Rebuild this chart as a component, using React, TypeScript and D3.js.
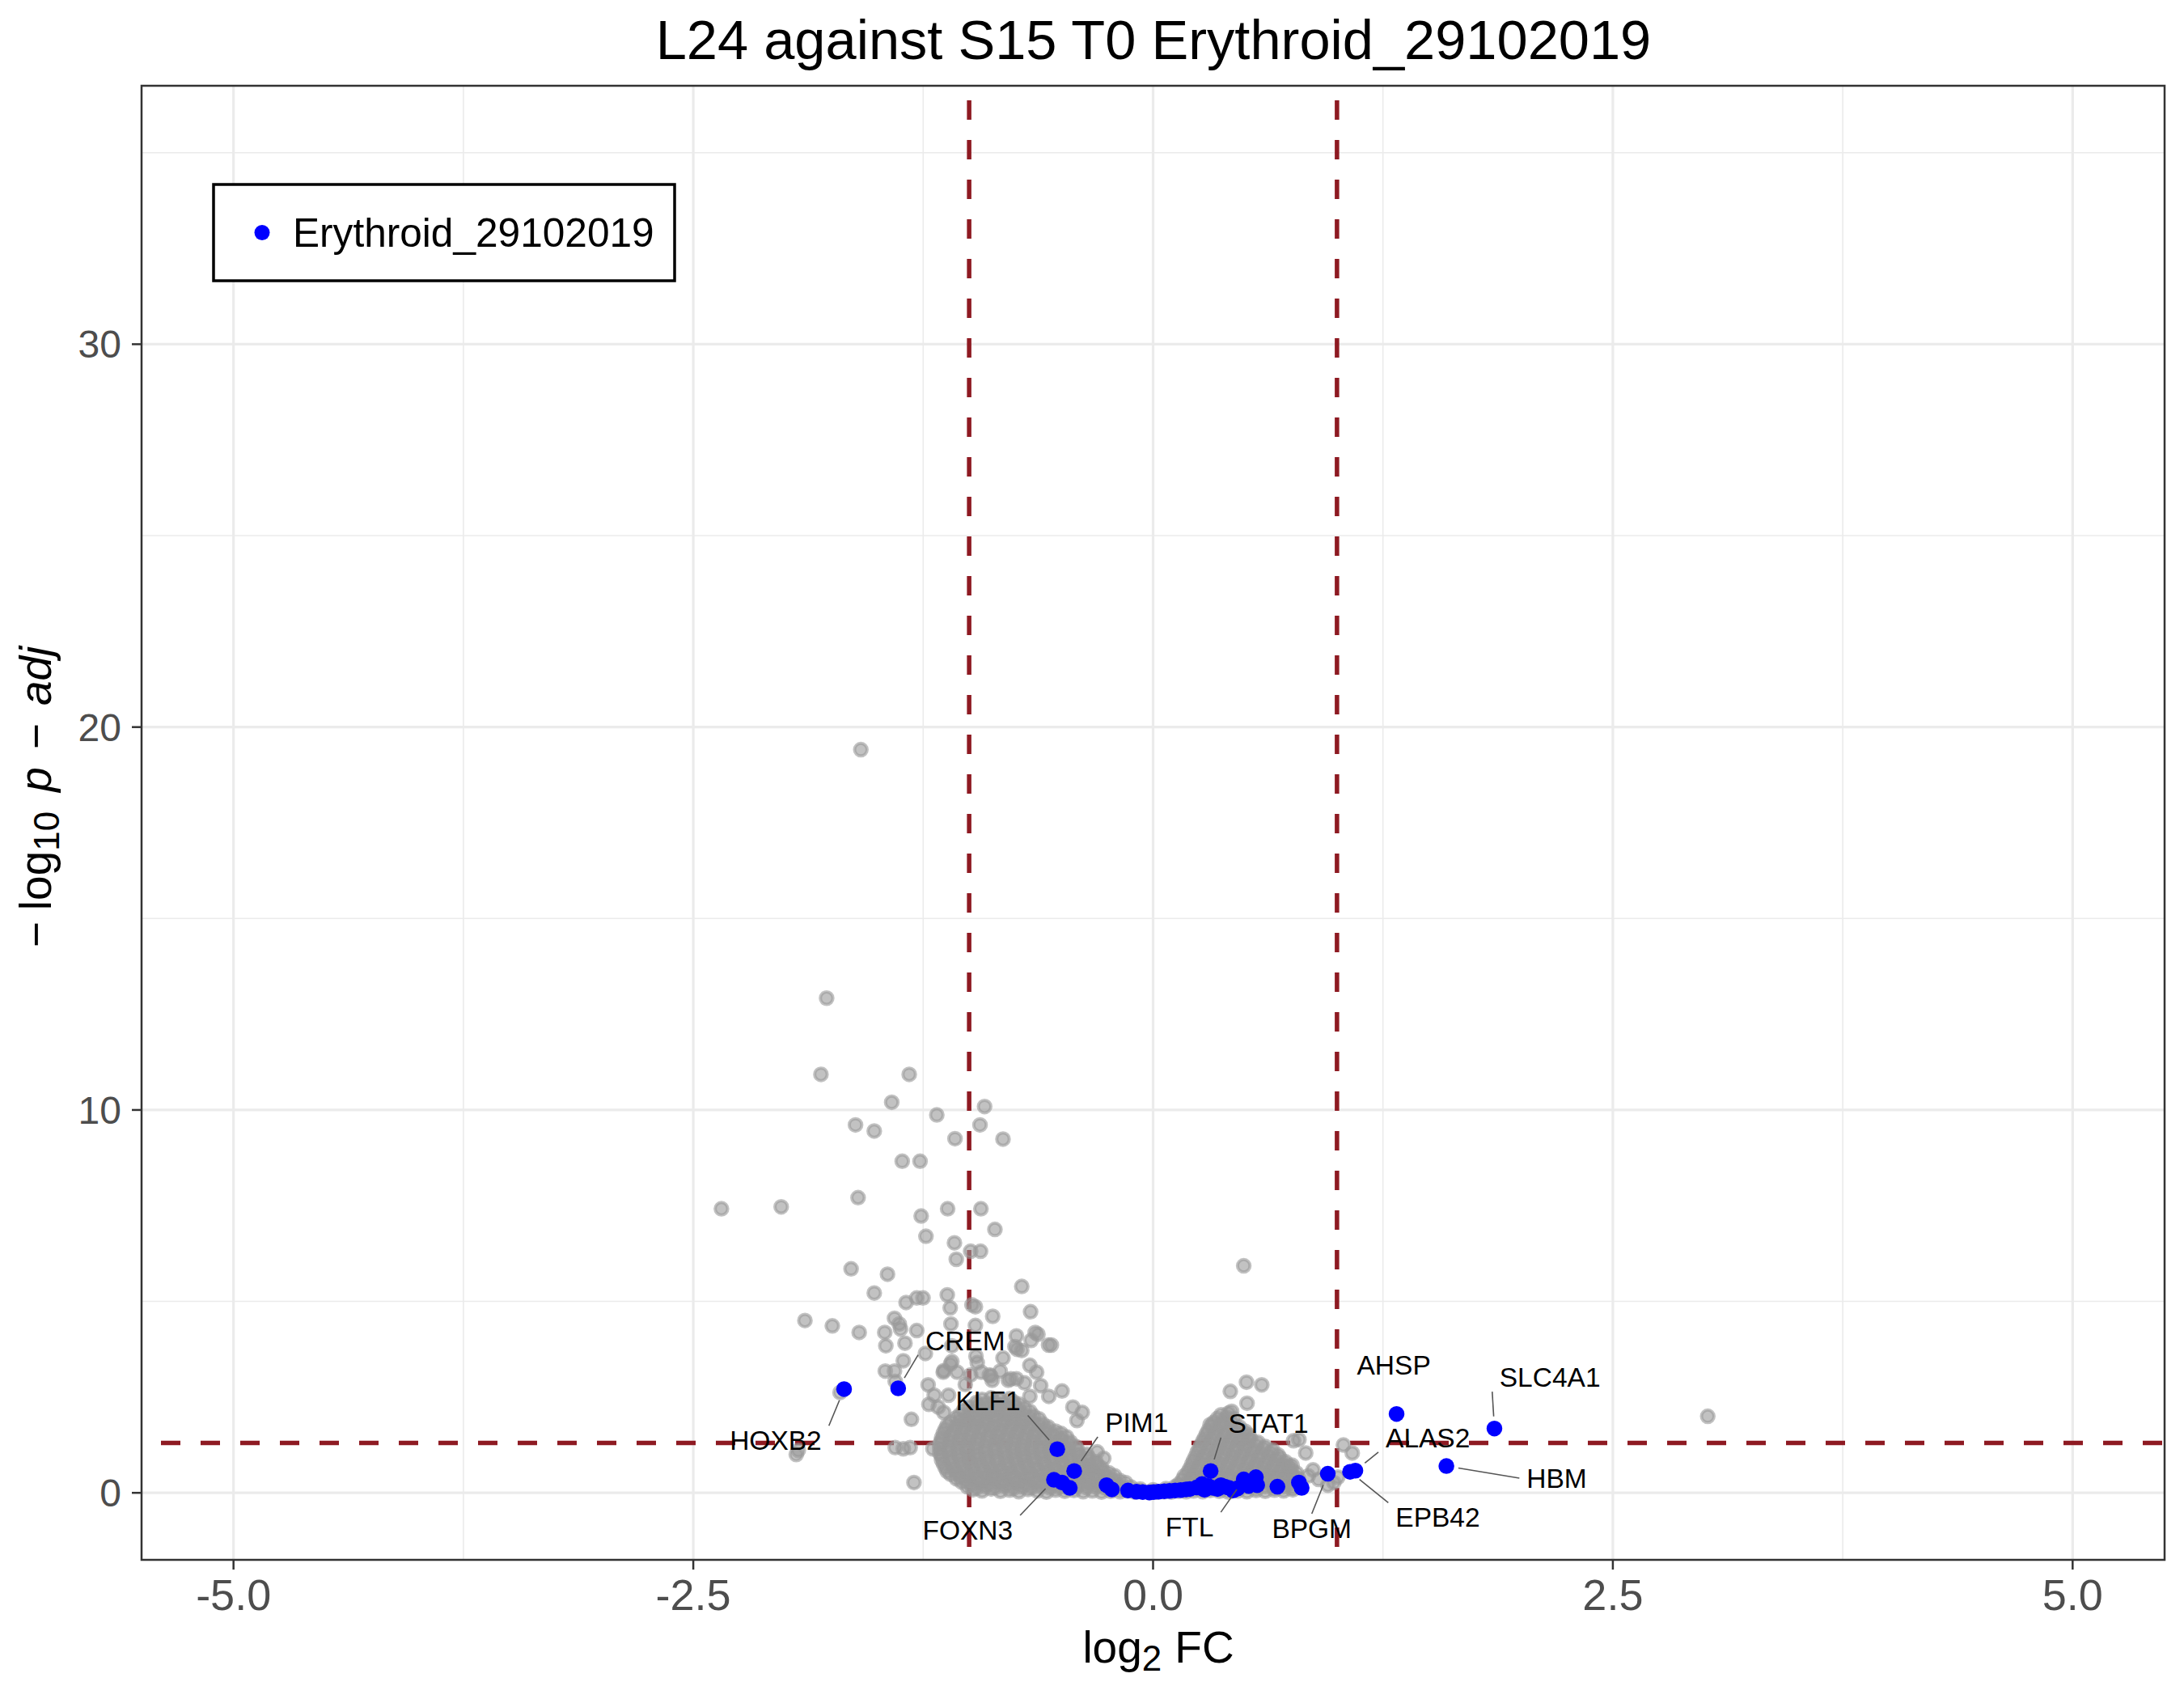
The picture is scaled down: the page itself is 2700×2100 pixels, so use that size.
import React, { useEffect, useMemo } from "react";
import * as d3 from "d3";

// ---------------- DATA ----------------
const TITLE = "L24 against S15 T0 Erythroid_29102019";
const LEGEND_LABEL = "Erythroid_29102019";

const xTicks = [-5, -2.5, 0, 2.5, 5];
const xTickLabels = ["-5.0", "-2.5", "0.0", "2.5", "5.0"];
const xMinorTicks = [-3.75, -1.25, 1.25, 3.75];
const yTicks = [0, 10, 20, 30];
const yTickLabels = ["0", "10", "20", "30"];
const yMinorTicks = [5, 15, 25, 35];

const fcThresholds = [-1, 1];
const padjThreshold = 1.30103; // -log10(0.05)

// scattered (sparse) background genes [log2FC, -log10 padj]
const grayScatter: [number, number][] = [
  [-1.589, 19.41], [-1.775, 12.92], [-1.806, 10.93], [-1.326, 10.93], [-1.421, 10.2],
  [-0.916, 10.09], [-1.176, 9.87], [-1.618, 9.61], [-0.941, 9.61], [-1.516, 9.45],
  [-1.077, 9.25], [-0.816, 9.24], [-1.364, 8.66], [-1.267, 8.66], [-1.604, 7.71],
  [-2.347, 7.42], [-2.022, 7.47], [-1.117, 7.42], [-0.936, 7.42], [-1.261, 7.23],
  [-0.86, 6.88], [-1.235, 6.7], [-1.08, 6.53], [-0.992, 6.31], [-0.938, 6.31],
  [-1.07, 6.1], [-1.642, 5.85], [-1.444, 5.71], [-0.714, 5.39], [-1.516, 5.22],
  [-1.343, 4.97], [-1.285, 5.09], [-1.251, 5.09], [-1.119, 5.17], [-1.103, 4.83],
  [-0.985, 4.91], [-0.966, 4.86], [-0.872, 4.61], [-0.666, 4.73], [-1.893, 4.5],
  [-1.744, 4.36], [-1.598, 4.19], [-1.406, 4.56], [-1.38, 4.41], [-1.373, 4.28],
  [-1.459, 4.19], [-1.285, 4.24], [-1.099, 4.41], [-0.966, 4.37], [-1.453, 3.84],
  [-1.349, 3.91], [-1.094, 3.84], [-0.743, 4.1], [-0.641, 4.19], [-0.663, 3.98],
  [-0.568, 3.86], [-0.751, 3.82], [-0.74, 3.75], [-0.626, 4.14], [-0.553, 3.86],
  [-0.714, 3.72], [-1.358, 3.45], [-1.238, 3.64], [-0.963, 3.57], [-0.956, 3.4],
  [-0.816, 3.52], [-1.456, 3.18], [-1.406, 3.18], [-1.141, 3.15], [-1.102, 3.36],
  [-1.094, 3.43], [-1.138, 3.19], [-1.065, 3.15], [-0.831, 3.18], [-0.67, 3.33],
  [-0.633, 3.15], [-0.882, 3.05], [-0.773, 2.98], [-0.934, 3.15], [-0.992, 3.08],
  [-0.89, 3.08], [-0.875, 2.94], [-0.787, 2.94], [-0.743, 2.98], [-0.699, 2.87],
  [-0.611, 2.8], [-0.567, 2.52], [-0.67, 2.52], [-1.402, 2.91], [-1.223, 2.82],
  [-1.19, 2.55], [-1.112, 2.55], [-1.702, 2.62], [-1.021, 2.83], [-1.168, 2.24],
  [-1.138, 2.1], [-1.219, 2.31], [-0.495, 2.66], [-0.436, 2.24], [-0.385, 2.1],
  [-0.414, 1.89], [-0.304, 1.07], [-0.268, 0.9], [-1.314, 1.92], [-1.402, 1.18],
  [-1.358, 1.15], [-1.321, 1.18], [-1.3, 0.27], [-1.197, 1.15], [-1.929, 1.11],
  [-1.94, 1.0], [0.493, 5.93], [0.508, 2.89], [0.591, 2.82], [0.42, 2.65],
  [0.511, 2.34], [0.427, 2.13], [0.31, 1.78], [0.793, 1.39], [0.83, 1.04],
  [0.756, 0.72], [0.844, 0.44], [1.035, 1.25], [1.083, 1.04], [0.983, 0.27],
  [1.005, 0.41], [0.95, 0.2], [0.9, 0.35], [0.87, 0.6], [0.764, 1.36],
  [3.016, 2.0],
];

// dense cloud of down-regulated / non-significant genes (left lobe + floor)
const grayLeftCloud: [number, number][] = [
  [-0.98, 0.08], [-0.93, 0.05], [-0.88, 0.1], [-0.83, 0.04], [-0.78, 0.07], [-0.73, 0.03],
  [-0.68, 0.09], [-0.63, 0.05], [-0.58, 0.02], [-0.53, 0.07], [-0.48, 0.04], [-0.43, 0.06],
  [-0.38, 0.03], [-0.33, 0.05], [-0.28, 0.02], [-0.23, 0.04], [-0.18, 0.03], [-0.14, 0.05],
  [-0.1, 0.02], [-0.06, 0.03], [-0.02, 0.01], [0.02, 0.02], [0.06, 0.03], [0.1, 0.02],
  [-0.12, 0.15], [-0.07, 0.1], [0.0, 0.08], [0.07, 0.11], [0.12, 0.16],
  [-1.01, 0.16], [-0.96, 0.13], [-0.91, 0.17], [-0.86, 0.14], [-0.81, 0.18], [-0.76, 0.12],
  [-0.71, 0.16], [-0.66, 0.14], [-0.61, 0.17], [-0.56, 0.13], [-0.51, 0.15], [-0.46, 0.12],
  [-0.41, 0.17], [-0.36, 0.14], [-0.31, 0.16], [-0.26, 0.13], [-0.21, 0.15], [-0.17, 0.12],
  [-1.04, 0.28], [-0.99, 0.22], [-0.94, 0.27], [-0.89, 0.24], [-0.84, 0.29], [-0.79, 0.21],
  [-0.74, 0.26], [-0.69, 0.23], [-0.64, 0.28], [-0.59, 0.22], [-0.54, 0.25], [-0.49, 0.2],
  [-0.44, 0.27], [-0.39, 0.23], [-0.34, 0.26], [-0.29, 0.21], [-0.24, 0.24], [-0.19, 0.22],
  [-0.15, 0.27],
  [-1.07, 0.37], [-1.02, 0.33], [-0.97, 0.36], [-0.92, 0.34], [-0.87, 0.38], [-0.82, 0.32],
  [-0.77, 0.36], [-0.72, 0.34], [-0.67, 0.37], [-0.62, 0.33], [-0.57, 0.35], [-0.52, 0.38],
  [-0.47, 0.32], [-0.42, 0.36], [-0.37, 0.34], [-0.32, 0.37], [-0.27, 0.33], [-0.22, 0.35],
  [-0.18, 0.32],
  [-1.1, 0.48], [-1.05, 0.43], [-1.0, 0.47], [-0.95, 0.42], [-0.9, 0.46], [-0.85, 0.44],
  [-0.8, 0.49], [-0.75, 0.41], [-0.7, 0.46], [-0.65, 0.43], [-0.6, 0.48], [-0.55, 0.44],
  [-0.5, 0.47], [-0.45, 0.42], [-0.4, 0.46], [-0.35, 0.44], [-0.3, 0.47], [-0.25, 0.42],
  [-0.21, 0.45],
  [-1.12, 0.56], [-1.07, 0.53], [-1.02, 0.57], [-0.97, 0.54], [-0.92, 0.58], [-0.87, 0.52],
  [-0.82, 0.56], [-0.77, 0.54], [-0.72, 0.57], [-0.67, 0.53], [-0.62, 0.55], [-0.57, 0.58],
  [-0.52, 0.52], [-0.47, 0.56], [-0.42, 0.54], [-0.37, 0.57], [-0.32, 0.53], [-0.27, 0.55],
  [-0.24, 0.52],
  [-1.13, 0.66], [-1.08, 0.62], [-1.03, 0.67], [-0.98, 0.63], [-0.93, 0.68], [-0.88, 0.64],
  [-0.83, 0.61], [-0.78, 0.66], [-0.73, 0.63], [-0.68, 0.68], [-0.63, 0.62], [-0.58, 0.66],
  [-0.53, 0.64], [-0.48, 0.69], [-0.43, 0.63], [-0.38, 0.67], [-0.33, 0.62], [-0.28, 0.65],
  [-1.14, 0.76], [-1.09, 0.73], [-1.04, 0.77], [-0.99, 0.74], [-0.94, 0.78], [-0.89, 0.72],
  [-0.84, 0.76], [-0.79, 0.74], [-0.74, 0.77], [-0.69, 0.73], [-0.64, 0.75], [-0.59, 0.78],
  [-0.54, 0.72], [-0.49, 0.76], [-0.44, 0.74], [-0.39, 0.77], [-0.34, 0.73], [-0.3, 0.71],
  [-1.15, 0.86], [-1.1, 0.82], [-1.05, 0.87], [-1.0, 0.84], [-0.95, 0.88], [-0.9, 0.83],
  [-0.85, 0.86], [-0.8, 0.81], [-0.75, 0.87], [-0.7, 0.84], [-0.65, 0.88], [-0.6, 0.82],
  [-0.55, 0.86], [-0.5, 0.83], [-0.45, 0.87], [-0.4, 0.82], [-0.35, 0.85], [-0.31, 0.81],
  [-1.15, 0.96], [-1.1, 0.93], [-1.05, 0.97], [-1.0, 0.94], [-0.95, 0.98], [-0.9, 0.92],
  [-0.85, 0.96], [-0.8, 0.94], [-0.75, 0.97], [-0.7, 0.93], [-0.65, 0.95], [-0.6, 0.98],
  [-0.55, 0.92], [-0.5, 0.96], [-0.45, 0.94], [-0.4, 0.97], [-0.35, 0.92],
  [-1.16, 1.04], [-1.11, 1.08], [-1.06, 1.03], [-1.01, 1.07], [-0.96, 1.02], [-0.91, 1.06],
  [-0.86, 1.09], [-0.81, 1.03], [-0.76, 1.07], [-0.71, 1.02], [-0.66, 1.06], [-0.61, 1.04],
  [-0.56, 1.08], [-0.51, 1.03], [-0.46, 1.06], [-0.41, 1.02], [-0.36, 1.01],
  [-1.16, 1.16], [-1.11, 1.13], [-1.06, 1.17], [-1.01, 1.14], [-0.96, 1.18], [-0.91, 1.12],
  [-0.86, 1.16], [-0.81, 1.14], [-0.76, 1.17], [-0.71, 1.13], [-0.66, 1.15], [-0.61, 1.18],
  [-0.56, 1.12], [-0.51, 1.16], [-0.46, 1.14], [-0.41, 1.12],
  [-1.16, 1.27], [-1.11, 1.23], [-1.06, 1.28], [-1.01, 1.24], [-0.96, 1.29], [-0.91, 1.22],
  [-0.86, 1.26], [-0.81, 1.23], [-0.76, 1.28], [-0.71, 1.24], [-0.66, 1.27], [-0.61, 1.22],
  [-0.56, 1.26], [-0.51, 1.24], [-0.46, 1.28], [-0.42, 1.21],
  [-1.15, 1.36], [-1.1, 1.33], [-1.05, 1.37], [-1.0, 1.34], [-0.95, 1.38], [-0.9, 1.32],
  [-0.85, 1.36], [-0.8, 1.34], [-0.75, 1.37], [-0.7, 1.33], [-0.65, 1.35], [-0.6, 1.38],
  [-0.55, 1.32], [-0.5, 1.36], [-0.45, 1.33],
  [-1.15, 1.44], [-1.1, 1.48], [-1.05, 1.43], [-1.0, 1.47], [-0.95, 1.42], [-0.9, 1.46],
  [-0.85, 1.49], [-0.8, 1.43], [-0.75, 1.47], [-0.7, 1.42], [-0.65, 1.46], [-0.6, 1.44],
  [-0.55, 1.48], [-0.5, 1.42], [-0.47, 1.46],
  [-1.14, 1.56], [-1.09, 1.53], [-1.04, 1.57], [-0.99, 1.54], [-0.94, 1.58], [-0.89, 1.52],
  [-0.84, 1.56], [-0.79, 1.54], [-0.74, 1.57], [-0.69, 1.53], [-0.64, 1.55], [-0.59, 1.58],
  [-0.54, 1.52], [-0.5, 1.55],
  [-1.13, 1.66], [-1.08, 1.62], [-1.03, 1.67], [-0.98, 1.63], [-0.93, 1.68], [-0.88, 1.64],
  [-0.83, 1.61], [-0.78, 1.66], [-0.73, 1.63], [-0.68, 1.67], [-0.63, 1.62], [-0.58, 1.65],
  [-0.53, 1.61],
  [-1.12, 1.76], [-1.07, 1.73], [-1.02, 1.77], [-0.97, 1.74], [-0.92, 1.78], [-0.87, 1.72],
  [-0.82, 1.76], [-0.77, 1.74], [-0.72, 1.77], [-0.67, 1.73], [-0.62, 1.75], [-0.57, 1.72],
  [-1.1, 1.84], [-1.05, 1.88], [-1.0, 1.83], [-0.95, 1.87], [-0.9, 1.82], [-0.85, 1.86],
  [-0.8, 1.89], [-0.75, 1.83], [-0.7, 1.87], [-0.65, 1.82], [-0.6, 1.8],
  [-1.07, 1.96], [-1.02, 1.93], [-0.97, 1.97], [-0.92, 1.94], [-0.87, 1.98], [-0.82, 1.92],
  [-0.77, 1.96], [-0.72, 1.94], [-0.67, 1.97], [-0.62, 1.93],
  [-1.05, 2.04], [-1.0, 2.08], [-0.95, 2.03], [-0.9, 2.07], [-0.85, 2.02], [-0.8, 2.06],
  [-0.75, 2.09], [-0.7, 2.03], [-0.65, 2.01],
  [-1.03, 2.16], [-0.98, 2.13], [-0.93, 2.17], [-0.88, 2.14], [-0.83, 2.18], [-0.78, 2.12],
  [-0.73, 2.16], [-0.67, 2.13],
  [-1.0, 2.24], [-0.95, 2.28], [-0.9, 2.23], [-0.85, 2.27], [-0.8, 2.22], [-0.75, 2.26],
  [-0.7, 2.21],
  [-0.96, 2.36], [-0.91, 2.33], [-0.86, 2.37], [-0.81, 2.34], [-0.76, 2.38], [-0.73, 2.32],
  [-0.93, 2.44], [-0.88, 2.48], [-0.83, 2.43], [-0.78, 2.46],
];

// dense cloud of up-regulated / non-significant genes (right lobe)
const grayRightCloud: [number, number][] = [
  [0.14, 0.04], [0.18, 0.03], [0.22, 0.05], [0.27, 0.03], [0.31, 0.06], [0.36, 0.04],
  [0.41, 0.02], [0.46, 0.05], [0.51, 0.03], [0.56, 0.06], [0.61, 0.04], [0.66, 0.07],
  [0.71, 0.05], [0.76, 0.08],
  [0.16, 0.14], [0.21, 0.17], [0.26, 0.13], [0.31, 0.16], [0.36, 0.14], [0.41, 0.18],
  [0.46, 0.12], [0.51, 0.16], [0.56, 0.14], [0.61, 0.17], [0.66, 0.13], [0.71, 0.16],
  [0.76, 0.14], [0.8, 0.17],
  [0.14, 0.23], [0.19, 0.27], [0.24, 0.22], [0.29, 0.28], [0.34, 0.24], [0.39, 0.26],
  [0.44, 0.21], [0.49, 0.27], [0.54, 0.23], [0.59, 0.28], [0.64, 0.22], [0.69, 0.26],
  [0.74, 0.24], [0.79, 0.29],
  [0.16, 0.34], [0.21, 0.37], [0.26, 0.33], [0.31, 0.36], [0.36, 0.34], [0.41, 0.38],
  [0.46, 0.32], [0.51, 0.36], [0.56, 0.34], [0.61, 0.37], [0.66, 0.33], [0.71, 0.36],
  [0.76, 0.34], [0.79, 0.37],
  [0.17, 0.44], [0.22, 0.48], [0.27, 0.42], [0.32, 0.47], [0.37, 0.43], [0.42, 0.46],
  [0.47, 0.41], [0.52, 0.47], [0.57, 0.43], [0.62, 0.48], [0.67, 0.44], [0.72, 0.46],
  [0.77, 0.42],
  [0.19, 0.54], [0.24, 0.57], [0.29, 0.53], [0.34, 0.56], [0.39, 0.54], [0.44, 0.58],
  [0.49, 0.52], [0.54, 0.56], [0.59, 0.54], [0.64, 0.57], [0.69, 0.53], [0.74, 0.56],
  [0.78, 0.52],
  [0.2, 0.63], [0.25, 0.67], [0.3, 0.62], [0.35, 0.68], [0.4, 0.64], [0.45, 0.66],
  [0.5, 0.61], [0.55, 0.67], [0.6, 0.63], [0.65, 0.68], [0.7, 0.64], [0.75, 0.61],
  [0.21, 0.74], [0.26, 0.77], [0.31, 0.73], [0.36, 0.76], [0.41, 0.74], [0.46, 0.78],
  [0.51, 0.72], [0.56, 0.76], [0.61, 0.74], [0.66, 0.77], [0.71, 0.73], [0.74, 0.7],
  [0.22, 0.84], [0.27, 0.88], [0.32, 0.83], [0.37, 0.87], [0.42, 0.82], [0.47, 0.86],
  [0.52, 0.84], [0.57, 0.88], [0.62, 0.83], [0.67, 0.86], [0.72, 0.81],
  [0.23, 0.94], [0.28, 0.97], [0.33, 0.93], [0.38, 0.96], [0.43, 0.94], [0.48, 0.98],
  [0.53, 0.92], [0.58, 0.96], [0.63, 0.94], [0.69, 0.91],
  [0.24, 1.06], [0.29, 1.02], [0.34, 1.07], [0.39, 1.03], [0.44, 1.08], [0.49, 1.04],
  [0.54, 1.07], [0.59, 1.02], [0.64, 1.05], [0.68, 0.99],
  [0.25, 1.14], [0.3, 1.17], [0.35, 1.13], [0.4, 1.16], [0.45, 1.14], [0.5, 1.18],
  [0.55, 1.12], [0.6, 1.16], [0.65, 1.12],
  [0.26, 1.24], [0.31, 1.28], [0.36, 1.23], [0.41, 1.27], [0.46, 1.22], [0.51, 1.26],
  [0.56, 1.24], [0.61, 1.21],
  [0.27, 1.34], [0.32, 1.37], [0.37, 1.33], [0.42, 1.36], [0.47, 1.34], [0.52, 1.38],
  [0.57, 1.32],
  [0.28, 1.43], [0.33, 1.47], [0.38, 1.42], [0.43, 1.46], [0.48, 1.44], [0.53, 1.41],
  [0.29, 1.54], [0.34, 1.57], [0.39, 1.53], [0.44, 1.56], [0.49, 1.54], [0.52, 1.51],
  [0.3, 1.63], [0.35, 1.67], [0.4, 1.62], [0.45, 1.66], [0.5, 1.61],
  [0.32, 1.74], [0.37, 1.77], [0.42, 1.73], [0.47, 1.72],
  [0.33, 1.84], [0.38, 1.88], [0.43, 1.82],
  [0.35, 1.94], [0.4, 1.97], [0.44, 1.93],
  [0.37, 2.04], [0.41, 2.08],
];

// Erythroid_29102019 gene set (blue), unlabeled members
const erythroidPoints: [number, number][] = [
  [-0.495, 0.27], [-0.453, 0.13], [-0.253, 0.2], [-0.224, 0.09], [-0.136, 0.06],
  [-0.09, 0.03], [-0.056, 0.02], [-0.02, 0.01], [0.003, 0.02], [0.03, 0.03],
  [0.061, 0.04], [0.09, 0.05], [0.12, 0.06], [0.15, 0.07], [0.179, 0.09],
  [0.2, 0.1], [0.237, 0.14], [0.266, 0.23], [0.28, 0.08], [0.3, 0.18],
  [0.325, 0.13], [0.35, 0.1], [0.369, 0.2], [0.39, 0.16], [0.413, 0.13],
  [0.435, 0.06], [0.46, 0.12], [0.52, 0.18], [0.559, 0.41], [0.566, 0.2],
  [0.676, 0.16], [0.793, 0.27], [0.808, 0.13],
];

// labeled Erythroid genes
const labelGenes = ["HOXB2", "CREM", "KLF1", "PIM1", "FOXN3", "STAT1", "FTL", "BPGM", "ALAS2", "EPB42", "AHSP", "SLC4A1", "HBM"];
const labelGeneFC = [-1.68, -1.386, -0.521, -0.429, -0.539, 0.313, 0.493, 0.95, 1.1, 1.071, 1.324, 1.856, 1.595];
const labelGeneP = [2.71, 2.73, 1.14, 0.57, 0.34, 0.57, 0.35, 0.5, 0.58, 0.55, 2.06, 1.68, 0.7];
// repelled label positions (text centre x, baseline y) in data units
const labelTextFC = [-2.052, -1.021, -0.897, -0.089, -1.008, 0.627, 0.198, 0.863, 1.494, 1.548, 1.309, 2.158, 2.195];
const labelTextP = [1.12, 3.73, 2.15, 1.59, -1.22, 1.57, -1.14, -1.18, 1.19, -0.89, 3.08, 2.77, 0.13];
const labelSegment = [true, true, true, true, true, true, true, true, true, true, false, true, true];

// ---------------- STYLE ----------------
const FONT = "'Liberation Sans', Arial, Helvetica, sans-serif";
const W = 2700;
const H = 2100;
const PANEL = { left: 175, right: 2676, top: 106, bottom: 1928 };
const GRAY = "#999999";
const BLUE = "#0000FF";
const RED = "#8E1A22";
const LABEL_FS = 33.5;

export default function App() {
  useEffect(() => {
    document.body.style.margin = "0";
  }, []);

  const x = d3.scaleLinear().domain([-5.5, 5.5]).range([PANEL.left, PANEL.right]);
  const y = d3.scaleLinear().domain([-1.75, 36.75]).range([PANEL.bottom, PANEL.top]);

  const measure = useMemo(() => {
    const ctx = document.createElement("canvas").getContext("2d")!;
    ctx.font = `${LABEL_FS}px 'Liberation Sans', Arial, sans-serif`;
    return (t: string) => ctx.measureText(t).width;
  }, []);

  const grayAll = [...grayLeftCloud, ...grayRightCloud, ...grayScatter];

  const labels = labelGenes.map((g, i) => {
    const px = x(labelGeneFC[i]);
    const py = y(labelGeneP[i]);
    const tx = x(labelTextFC[i]);
    const ty = y(labelTextP[i]);
    const w = measure(g);
    const capH = LABEL_FS * 0.716;
    const bx0 = tx - w / 2 - 9;
    const bx1 = tx + w / 2 + 9;
    const by0 = ty - capH - 6;
    const by1 = ty + 6;
    const mx = (bx0 + bx1) / 2;
    const my = (by0 + by1) / 2;
    const cands: [number, number, boolean][] = [];
    [bx0, mx, bx1].forEach((cx) =>
      [by0, my, by1].forEach((cy) => {
        if (!(cx === mx && cy === my)) cands.push([cx, cy, cx === mx || cy === my]);
      })
    );
    let best = cands[0];
    let bestD = Infinity;
    cands.forEach((c) => {
      const dd = Math.hypot(c[0] - px, c[1] - py) * (c[2] ? 0.97 : 1);
      if (dd < bestD) {
        bestD = dd;
        best = c;
      }
    });
    const nx = best[0];
    const ny = best[1];
    const dx = nx - px;
    const dy = ny - py;
    const len = Math.sqrt(dx * dx + dy * dy);
    const startD = 15;
    let seg: null | [number, number, number, number] = null;
    if (labelSegment[i] && len > startD) {
      seg = [px + (dx / len) * startD, py + (dy / len) * startD, nx, ny];
    }
    return { g, tx, ty, seg };
  });

  const period = 49;

  return (
    <svg
      width={W}
      height={H}
      viewBox={`0 0 ${W} ${H}`}
      style={{ position: "absolute", left: 0, top: 0, background: "#fff" }}
      fontFamily={FONT}
    >
      <rect x={0} y={0} width={W} height={H} fill="#fff" />
      <rect x={PANEL.left} y={PANEL.top} width={PANEL.right - PANEL.left} height={PANEL.bottom - PANEL.top} fill="#fff" />
      {/* minor grid */}
      {xMinorTicks.map((t) => (
        <line key={"xm" + t} x1={x(t)} x2={x(t)} y1={PANEL.top} y2={PANEL.bottom} stroke="#EBEBEB" strokeWidth={1.6} />
      ))}
      {yMinorTicks.map((t) => (
        <line key={"ym" + t} x1={PANEL.left} x2={PANEL.right} y1={y(t)} y2={y(t)} stroke="#EBEBEB" strokeWidth={1.6} />
      ))}
      {/* major grid */}
      {xTicks.map((t) => (
        <line key={"xM" + t} x1={x(t)} x2={x(t)} y1={PANEL.top} y2={PANEL.bottom} stroke="#EBEBEB" strokeWidth={3.2} />
      ))}
      {yTicks.map((t) => (
        <line key={"yM" + t} x1={PANEL.left} x2={PANEL.right} y1={y(t)} y2={y(t)} stroke="#EBEBEB" strokeWidth={3.2} />
      ))}

      {/* threshold lines */}
      {fcThresholds.map((t) => (
        <line
          key={"vt" + t}
          x1={x(t)}
          x2={x(t)}
          y1={PANEL.bottom}
          y2={PANEL.top}
          stroke={RED}
          strokeWidth={5.5}
          strokeDasharray="24 25"
          strokeDashoffset={33}
        />
      ))}
      <line
        x1={PANEL.left}
        x2={PANEL.right}
        y1={y(padjThreshold)}
        y2={y(padjThreshold)}
        stroke={RED}
        strokeWidth={5.5}
        strokeDasharray="24 25"
        strokeDashoffset={period - 24}
      />

      {/* gray points */}
      <g>
        {grayAll.map((d, i) => (
          <circle
            key={"g" + i}
            cx={x(d[0])}
            cy={y(d[1])}
            r={7.75}
            fill={GRAY}
            fillOpacity={0.6}
            stroke={GRAY}
            strokeOpacity={0.6}
            strokeWidth={4}
          />
        ))}
      </g>
      {/* blue points */}
      <g>
        {erythroidPoints.map((d, i) => (
          <circle key={"b" + i} cx={x(d[0])} cy={y(d[1])} r={9.75} fill={BLUE} />
        ))}
        {labelGenes.map((g, i) => (
          <circle key={"bl" + g} cx={x(labelGeneFC[i])} cy={y(labelGeneP[i])} r={9.75} fill={BLUE} />
        ))}
      </g>

      {/* labels */}
      <g>
        {labels.map((l) =>
          l.seg ? (
            <line key={"s" + l.g} x1={l.seg[0]} y1={l.seg[1]} x2={l.seg[2]} y2={l.seg[3]} stroke="#555" strokeWidth={1.6} />
          ) : null
        )}
        {labels.map((l) => (
          <text key={"t" + l.g} x={l.tx} y={l.ty} textAnchor="middle" fontSize={LABEL_FS} fill="#000">
            {l.g}
          </text>
        ))}
      </g>

      {/* panel border */}
      <rect
        x={PANEL.left}
        y={PANEL.top}
        width={PANEL.right - PANEL.left}
        height={PANEL.bottom - PANEL.top}
        fill="none"
        stroke="#333333"
        strokeWidth={2.5}
      />

      {/* axes ticks */}
      {xTicks.map((t, i) => (
        <g key={"xt" + t}>
          <line x1={x(t)} x2={x(t)} y1={PANEL.bottom} y2={PANEL.bottom + 12} stroke="#333333" strokeWidth={2.5} />
          <text x={x(t)} y={1990} textAnchor="middle" fontSize={54} fill="#4D4D4D">
            {xTickLabels[i]}
          </text>
        </g>
      ))}
      {yTicks.map((t, i) => (
        <g key={"yt" + t}>
          <line x1={PANEL.left - 12} x2={PANEL.left} y1={y(t)} y2={y(t)} stroke="#333333" strokeWidth={2.5} />
          <text x={150} y={y(t) + 17} textAnchor="end" fontSize={48} fill="#4D4D4D">
            {yTickLabels[i]}
          </text>
        </g>
      ))}

      {/* axis titles */}
      <text x={1432} y={2055} textAnchor="middle" fontSize={55} fill="#000">
        <tspan>log</tspan>
        <tspan fontSize={44} dy={10}>2</tspan>
        <tspan dy={-10} dx={16}>FC</tspan>
      </text>
      <text transform="translate(63, 985) rotate(-90)" textAnchor="middle" fontSize={55} fill="#000">
        <tspan>{"\u2212"}</tspan>
        <tspan dx={14}>log</tspan>
        <tspan fontSize={44} dy={10}>10</tspan>
        <tspan dy={-10} dx={24} fontStyle="italic">p</tspan>
        <tspan dx={22}>{"\u2212"}</tspan>
        <tspan dx={22} fontStyle="italic">adj</tspan>
      </text>

      {/* title */}
      <text x={1426} y={72.7} textAnchor="middle" fontSize={68.6} fill="#000">
        {TITLE}
      </text>

      {/* legend */}
      <rect x={264} y={228} width={570} height={119} fill="#fff" stroke="#000" strokeWidth={3.5} />
      <circle cx={324} cy={287.5} r={9.5} fill={BLUE} />
      <text x={362} y={305} fontSize={49.6} fill="#000">
        {LEGEND_LABEL}
      </text>
    </svg>
  );
}
